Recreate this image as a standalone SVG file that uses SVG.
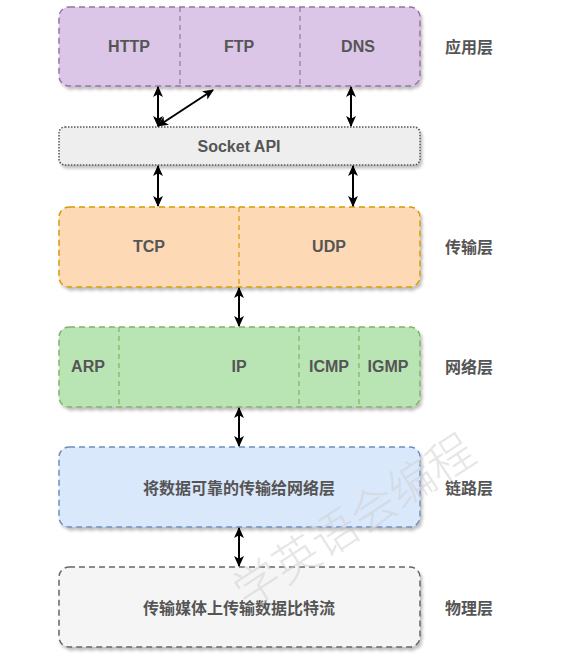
<svg xmlns="http://www.w3.org/2000/svg" width="564" height="665" viewBox="0 0 564 665">
<style>
.box{stroke-width:1.5;stroke-dasharray:6 4}
.div{fill:none;stroke-width:1.2;stroke-dasharray:5 4}
.t{font-family:"Liberation Sans","Noto Sans CJK SC",Arial,sans-serif;font-size:16px;font-weight:bold;fill:#555;text-anchor:middle;dominant-baseline:central}
.c{font-family:"Noto Sans CJK SC","Liberation Sans",sans-serif;font-size:16px;font-weight:bold;fill:#555;text-anchor:middle;dominant-baseline:central}
.lbl{font-family:"Noto Sans CJK SC","Liberation Sans",sans-serif;font-size:16px;font-weight:bold;fill:#555;dominant-baseline:central}
.arr{fill:none;stroke:#000;stroke-width:2;marker-start:url(#ah);marker-end:url(#ah)}
</style>
<defs>
<filter id="sh" x="-5%" y="-10%" width="115%" height="130%">
<feDropShadow dx="2" dy="3" stdDeviation="1.5" flood-color="#000" flood-opacity="0.25"/>
</filter>
<marker id="ah" viewBox="0 0 10 10" refX="9" refY="5" markerWidth="5.5" markerHeight="5.5" orient="auto-start-reverse" markerUnits="strokeWidth">
<path d="M0,0.5 L10,5 L0,9.5 L2.5,5 z" fill="#000"/>
</marker>
</defs>
<rect width="564" height="665" fill="#fff"/>

<g id="app">
<rect x="59" y="7" width="361" height="79" rx="10" fill="#dcc6e8" stroke="#9673a6" class="box" filter="url(#sh)"/>
<line x1="180" y1="7" x2="180" y2="86" stroke="#9673a6" class="div"/>
<line x1="300" y1="7" x2="300" y2="86" stroke="#9673a6" class="div"/>
<text x="129" y="46" class="t">HTTP</text>
<text x="239" y="46" class="t">FTP</text>
<text x="358" y="46" class="t">DNS</text>
</g>

<g id="socket">
<rect x="59" y="127" width="361" height="38" rx="6" fill="#eeeeee" stroke="#555" stroke-width="1.5" stroke-dasharray="1.5 1.5" filter="url(#sh)"/>
<text x="239" y="146" class="t" font-size="15px">Socket API</text>
</g>

<g id="transport">
<rect x="59" y="207" width="361" height="80" rx="10" fill="#fdd9b5" stroke="#d79b00" class="box" filter="url(#sh)"/>
<line x1="239" y1="207" x2="239" y2="287" stroke="#d79b00" class="div"/>
<text x="149" y="246" class="t">TCP</text>
<text x="329" y="246" class="t">UDP</text>
</g>

<g id="network">
<rect x="59" y="327" width="361" height="80" rx="10" fill="#b9e4b4" stroke="#82b366" class="box" filter="url(#sh)"/>
<line x1="119" y1="327" x2="119" y2="407" stroke="#82b366" class="div"/>
<line x1="299" y1="327" x2="299" y2="407" stroke="#82b366" class="div"/>
<line x1="359" y1="327" x2="359" y2="407" stroke="#82b366" class="div"/>
<text x="88" y="366" class="t">ARP</text>
<text x="239" y="366" class="t">IP</text>
<text x="329" y="366" class="t">ICMP</text>
<text x="388" y="366" class="t">IGMP</text>
</g>

<g id="link">
<rect x="59" y="447" width="361" height="80" rx="10" fill="#dae8fc" stroke="#6c8ebf" class="box" filter="url(#sh)"/>
<text x="239" y="487" class="c">将数据可靠的传输给网络层</text>
</g>

<g id="physical">
<rect x="59" y="567" width="361" height="80" rx="10" fill="#f5f5f5" stroke="#666" class="box" filter="url(#sh)"/>
<text x="239" y="607" class="c">传输媒体上传输数据比特流</text>
</g>

<g id="labels">
<text x="445" y="46" class="lbl">应用层</text>
<text x="445" y="246" class="lbl">传输层</text>
<text x="445" y="366" class="lbl">网络层</text>
<text x="445" y="487" class="lbl">链路层</text>
<text x="445" y="607" class="lbl">物理层</text>
</g>

<g id="connectors">
<line x1="158" y1="87" x2="158" y2="126" class="arr"/>
<line x1="158" y1="126" x2="213" y2="90" class="arr"/>
<line x1="351" y1="87" x2="351" y2="126" class="arr"/>
<line x1="158" y1="166" x2="158" y2="206" class="arr"/>
<line x1="353" y1="166" x2="353" y2="206" class="arr"/>
<line x1="239" y1="288" x2="239" y2="326" class="arr"/>
<line x1="239" y1="408" x2="239" y2="446" class="arr"/>
<line x1="239" y1="528" x2="239" y2="566" class="arr"/>
</g>

<text x="352" y="518" transform="rotate(-33 352 518)" font-family="Noto Sans CJK SC,sans-serif" font-size="46" font-weight="300" fill="#d0d0d0" fill-opacity="0.55" text-anchor="middle" dominant-baseline="central">学英语会编程</text>
</svg>
